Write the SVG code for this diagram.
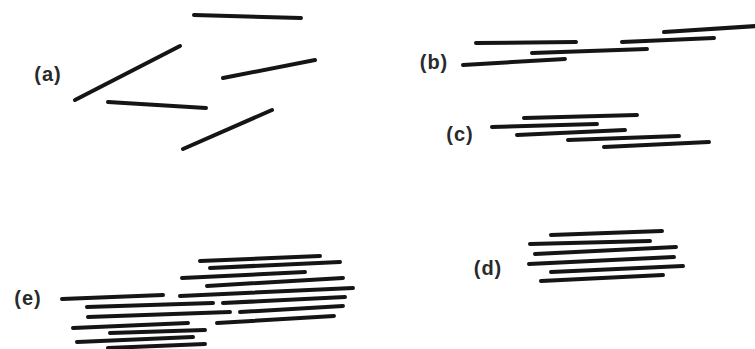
<svg xmlns="http://www.w3.org/2000/svg" width="755" height="349" viewBox="0 0 755 349">
<style>
.s line{stroke:#151515;stroke-width:4;stroke-linecap:round}
.lbl{font-family:"Liberation Sans",Arial,sans-serif;font-weight:bold;font-size:20px;fill:#2a2a2a;text-anchor:middle;letter-spacing:1px}
</style>
<rect width="755" height="349" fill="#fff"/>
<g id="a" class="s">
<text class="lbl" x="48" y="81">(a)</text>
<line x1="194" y1="15" x2="301" y2="18"/>
<line x1="75" y1="100" x2="180" y2="46"/>
<line x1="223" y1="78" x2="315" y2="60"/>
<line x1="108" y1="102" x2="206" y2="108"/>
<line x1="183" y1="149" x2="272" y2="110"/>
</g>
<g id="b" class="s">
<text class="lbl" x="434" y="69">(b)</text>
<line x1="476" y1="43" x2="576" y2="42"/>
<line x1="532" y1="53" x2="647" y2="49"/>
<line x1="463" y1="65" x2="565" y2="59"/>
<line x1="622" y1="42" x2="714" y2="38"/>
<line x1="664" y1="32" x2="757" y2="26"/>
</g>
<g id="c" class="s">
<text class="lbl" x="460" y="141">(c)</text>
<line x1="524" y1="118" x2="637" y2="115"/>
<line x1="492" y1="127" x2="597" y2="124"/>
<line x1="517" y1="135" x2="625" y2="130"/>
<line x1="568" y1="140" x2="679" y2="136"/>
<line x1="604" y1="147" x2="709" y2="142"/>
</g>
<g id="d" class="s">
<text class="lbl" x="488" y="275">(d)</text>
<line x1="551" y1="235" x2="662" y2="231"/>
<line x1="530" y1="244" x2="650" y2="241"/>
<line x1="535" y1="254" x2="676" y2="247"/>
<line x1="529" y1="264" x2="674" y2="257"/>
<line x1="551" y1="272" x2="683" y2="266"/>
<line x1="541" y1="281" x2="663" y2="275"/>
</g>
<g id="e" class="s">
<text class="lbl" x="28" y="305">(e)</text>
<line x1="200" y1="261" x2="320" y2="256"/>
<line x1="210" y1="268" x2="340" y2="262"/>
<line x1="182" y1="278" x2="305" y2="272"/>
<line x1="207" y1="286" x2="343" y2="278"/>
<line x1="180" y1="296" x2="353" y2="288"/>
<line x1="62" y1="299" x2="163" y2="295"/>
<line x1="223" y1="303" x2="345" y2="297"/>
<line x1="87" y1="307" x2="213" y2="303"/>
<line x1="240" y1="312" x2="343" y2="306"/>
<line x1="88" y1="317" x2="230" y2="312"/>
<line x1="217" y1="323" x2="334" y2="316"/>
<line x1="73" y1="328" x2="188" y2="323"/>
<line x1="110" y1="333" x2="205" y2="330"/>
<line x1="77" y1="342" x2="193" y2="337"/>
<line x1="108" y1="348" x2="205" y2="344"/>
</g>
</svg>
